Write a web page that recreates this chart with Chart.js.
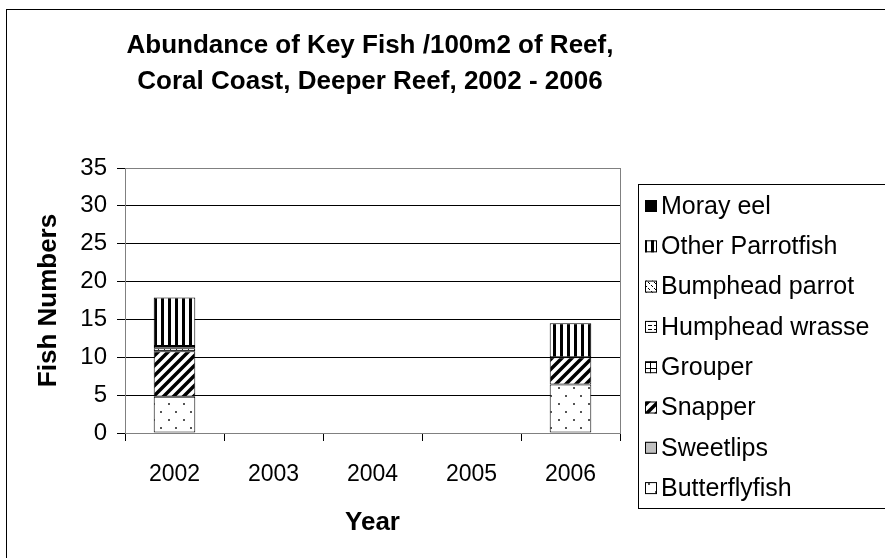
<!DOCTYPE html>
<html>
<head>
<meta charset="utf-8">
<script src="https://cdn.jsdelivr.net/npm/chart.js@4.4.1/dist/chart.umd.min.js"></script>
<style>
  html, body { margin: 0; padding: 0; background: #fff; }
  #wrap { width: 885px; height: 558px; }
</style>
</head>
<body>
<div id="wrap"><canvas id="fishChart" width="885" height="558"></canvas></div>
<script>
// values (fish per 100m2)
const years = ['2002', '2003', '2004', '2005', '2006'];
const butterflyfish   = [4.8, 0, 0, 0, 6.4];
const sweetlips       = [0, 0, 0, 0, 0];
const snapper         = [6.0, 0, 0, 0, 3.6];
const grouper         = [0.4, 0, 0, 0, 0];
const humpheadWrasse  = [0.3, 0, 0, 0, 0];
const bumpheadParrot  = [0, 0, 0, 0, 0];
const otherParrotfish = [6.4, 0, 0, 0, 4.5];
const morayEel        = [0, 0, 0, 0, 0];
const yMin = 0, yMax = 35, yStep = 5;

const FONT = '"Liberation Sans", Arial, sans-serif';
const ctx = document.getElementById('fishChart').getContext('2d');

// small tile -> canvas pattern
function makePattern(w, h, draw) {
  const c = document.createElement('canvas');
  c.width = w; c.height = h;
  const g = c.getContext('2d');
  g.fillStyle = '#fff';
  g.fillRect(0, 0, w, h);
  g.fillStyle = '#000';
  g.strokeStyle = '#000';
  draw(g);
  return ctx.createPattern(c, 'repeat');
}

const dots = makePattern(15, 16, g => {
  g.fillStyle = '#555';
  g.fillRect(3, 3, 2, 2);
  g.fillRect(10, 11, 2, 2);
});
const diag = makePattern(10, 10, g => {
  g.lineWidth = 3.5;
  g.beginPath();
  g.moveTo(-5, 5); g.lineTo(5, -5);
  g.moveTo(0, 10); g.lineTo(10, 0);
  g.moveTo(5, 15); g.lineTo(15, 5);
  g.stroke();
});
const grid = makePattern(6, 6, g => {
  g.fillRect(0, 2, 6, 1);
  g.fillRect(2, 0, 1, 6);
});
const dashes = makePattern(6, 4, g => {
  g.fillRect(0, 1, 4, 1);
});
const diamonds = makePattern(6, 6, g => {
  g.fillRect(0, 0, 1, 1);
  g.fillRect(3, 3, 1, 1);
  g.fillRect(1, 1, 1, 1);
  g.fillRect(4, 4, 1, 1);
});
const vstripes = makePattern(7, 7, g => {
  g.fillRect(0, 0, 3, 7);
});

function ds(label, data, fill) {
  return {
    label: label,
    data: data,
    backgroundColor: fill,
    borderColor: '#000',
    borderWidth: 1,
    borderSkipped: false,
    categoryPercentage: 1,
    barPercentage: 0.42
  };
}

const datasets = [
  ds('Butterflyfish', butterflyfish, dots),
  ds('Sweetlips', sweetlips, '#c0c0c0'),
  ds('Snapper', snapper, diag),
  ds('Grouper', grouper, grid),
  ds('Humphead wrasse', humpheadWrasse, dashes),
  ds('Bumphead parrot', bumpheadParrot, diamonds),
  ds('Other Parrotfish', otherParrotfish, vstripes),
  ds('Moray eel', morayEel, '#000')
];

// outer frame, plot frame, title and boxed legend
const decor = {
  id: 'decor',
  beforeDatasetsDraw(chart) {
    const a = chart.chartArea;
    const c = chart.ctx;
    c.save();
    c.strokeStyle = '#808080';
    c.lineWidth = 1;
    c.strokeRect(a.left + 0.5, a.top + 0.5, a.right - a.left, a.bottom - a.top);
    c.restore();
  },
  afterDraw(chart) {
    const c = chart.ctx;
    c.save();
    c.strokeStyle = '#000';
    c.lineWidth = 1;
    c.strokeRect(6.5, 9.5, 1000, 1000);

    c.fillStyle = '#000';
    c.font = 'bold 26px ' + FONT;
    c.textAlign = 'center';
    c.textBaseline = 'middle';
    c.fillText('Abundance of Key Fish /100m2 of Reef,', 370, 46);
    c.fillText('Coral Coast, Deeper Reef, 2002 - 2006', 370, 82);

    // legend
    c.fillStyle = '#fff';
    c.fillRect(638, 184, 300, 324);
    c.strokeRect(638.5, 184.5, 300, 324);
    c.font = '25px ' + FONT;
    c.textAlign = 'left';
    const items = chart.data.datasets.slice().reverse();
    items.forEach((d, i) => {
      const y = 206 + i * 40.3;
      c.fillStyle = d.backgroundColor;
      c.fillRect(645, y - 6, 12, 12);
      c.strokeRect(645.5, y - 5.5, 11, 11);
      c.fillStyle = '#000';
      c.fillText(d.label, 661, y + 1);
    });
    c.restore();
  }
};

new Chart(ctx, {
  type: 'bar',
  data: { labels: years, datasets: datasets },
  options: {
    responsive: false,
    animation: false,
    layout: { padding: { left: 0, top: 168, right: 265, bottom: 0 } },
    plugins: {
      legend: { display: false },
      title: { display: false },
      tooltip: { enabled: false }
    },
    scales: {
      x: {
        stacked: true,
        afterFit(scale) { scale.height = 125; },
        grid: { display: true, drawOnChartArea: false, offset: true, color: '#000', tickLength: 8 },
        border: { color: '#000', width: 1 },
        ticks: { color: '#000', font: { family: FONT, size: 23 }, padding: 20, maxRotation: 0 },
        title: { display: true, text: 'Year', color: '#000', font: { family: FONT, size: 26, weight: 'bold' }, padding: { top: 0, bottom: 20 } }
      },
      y: {
        stacked: true,
        min: yMin,
        max: yMax,
        afterFit(scale) { scale.width = 125; },
        grid: { color: '#000', tickLength: 8 },
        border: { color: '#000', width: 1 },
        ticks: { stepSize: yStep, color: '#000', font: { family: FONT, size: 24 }, padding: 10 },
        title: { display: true, text: 'Fish Numbers', color: '#000', font: { family: FONT, size: 26, weight: 'bold' }, padding: { top: 33, bottom: 0 } }
      }
    }
  },
  plugins: [decor]
});
</script>
</body>
</html>
